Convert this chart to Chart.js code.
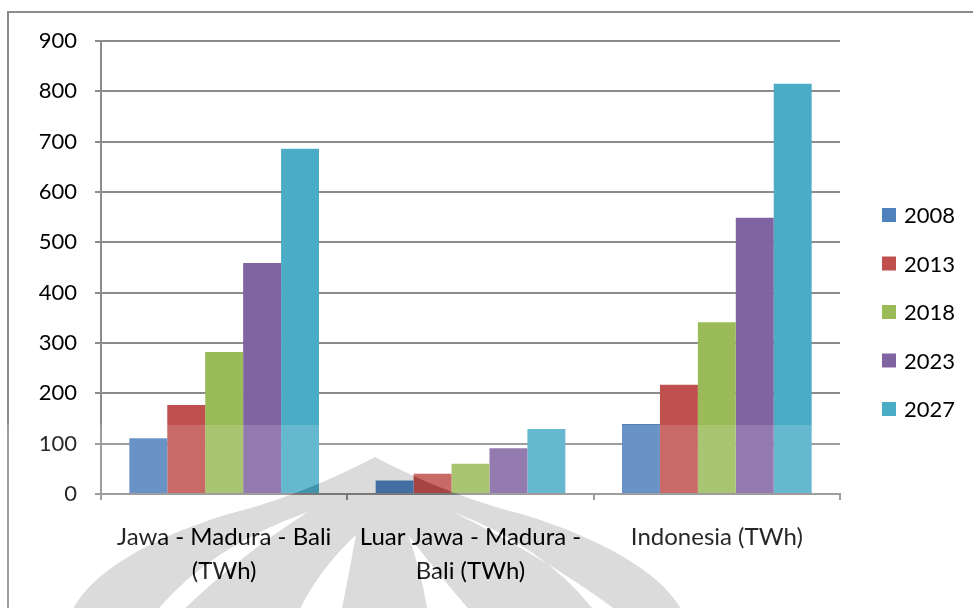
<!DOCTYPE html>
<html>
<head>
<meta charset="utf-8">
<script src="https://cdn.jsdelivr.net/npm/chart.js@4/dist/chart.umd.min.js"></script>
<style>
  html, body { margin: 0; padding: 0; background: #ffffff; overflow: hidden; }
  #wrap { width: 973px; height: 608px; position: relative; }
</style>
</head>
<body>
<div id="wrap"><canvas id="chart" width="973" height="608"></canvas></div>
<script>
// Electricity demand by region (TWh)
const categories = [
  ["Jawa - Madura - Bali", "(TWh)"],
  ["Luar Jawa - Madura -", "Bali (TWh)"],
  "Indonesia (TWh)"
];
const seriesNames = ["2008", "2013", "2018", "2023", "2027"];
const demand2008 = [111, 27, 139];
const demand2013 = [177, 40, 217];
const demand2018 = [282, 60, 341];
const demand2023 = [459, 91, 549];
const demand2027 = [686, 129, 815];
const yTicks = [0, 100, 200, 300, 400, 500, 600, 700, 800, 900];

const seriesValues = [demand2008, demand2013, demand2018, demand2023, demand2027];
const seriesColors = ["#4F81BD", "#C0504D", "#9BBB59", "#8064A2", "#4BACC6"];

const FONT = "Lato";
const AXIS_GRAY = "#8c8c8c";

// Outer frame of the chart object
const framePlugin = {
  id: "frame",
  beforeDraw(chart) {
    const ctx = chart.ctx;
    ctx.save();
    ctx.fillStyle = "#ffffff";
    ctx.fillRect(0, 0, chart.width, chart.height);
    ctx.strokeStyle = AXIS_GRAY;
    ctx.lineWidth = 2;
    ctx.strokeRect(8, 12, chart.width + 40, chart.height + 40);
    ctx.restore();
  }
};

// Legend on the right: coloured square + series name
const sideLegend = {
  id: "sideLegend",
  afterDraw(chart) {
    const ctx = chart.ctx;
    const x = 882, top = 215, step = 48.5, box = 14;
    ctx.save();
    ctx.font = "22px " + FONT;
    ctx.textBaseline = "middle";
    ctx.textAlign = "left";
    chart.data.datasets.forEach((ds, i) => {
      const cy = top + i * step;
      ctx.fillStyle = ds.backgroundColor;
      ctx.fillRect(x, cy - box / 2, box, box);
      ctx.fillStyle = "#000000";
      ctx.fillText(ds.label, x + box + 8, cy + 1);
    });
    ctx.restore();
  }
};

// Faint emblem band across the lower part of the page
const emblem = {
  id: "emblem",
  afterDraw(chart) {
    const ctx = chart.ctx;
    const W = chart.width, H = chart.height;
    const bandTop = 425;
    const cx = 378;

    function emblemPath() {
      const p = new Path2D();
      // outer pointed dome
      p.moveTo(cx - 3, 457);
      p.bezierCurveTo(cx + 37, 478, cx + 87, 500, cx + 147, 515);
      p.bezierCurveTo(cx + 227, 540, cx + 287, 575, cx + 305, H + 5);
      p.lineTo(cx - 307, H + 5);
      p.bezierCurveTo(cx - 290, 575, cx - 233, 540, cx - 153, 515);
      p.bezierCurveTo(cx - 93, 500, cx - 43, 478, cx - 3, 457);
      p.closePath();
      return p;
    }
    function gapsPath() {
      const p = new Path2D();
      // curved light gaps between the petals: [left foot, right foot, tip x, tip y]
      const gaps = [
        [-223, -198, -70, 512],
        [-80, -37, -22, 535],
        [50, 94, 30, 535],
        [218, 242, 75, 512]
      ];
      gaps.forEach(([x0, x1, tx, ty]) => {
        p.moveTo(cx + x0, H + 5);
        p.quadraticCurveTo(cx + x0 + (tx - x0) * 0.35, ty + 35, cx + tx, ty);
        p.quadraticCurveTo(cx + x1 + (tx - x1) * 0.45, ty + 45, cx + x1, H + 5);
        p.closePath();
      });
      return p;
    }

    ctx.save();
    // whitening band except inside the emblem
    const outside = new Path2D();
    outside.rect(0, bandTop, W, H - bandTop);
    outside.addPath(emblemPath());
    ctx.save();
    ctx.clip(outside, "evenodd");
    ctx.fillStyle = "rgba(255,255,255,0.15)";
    ctx.fillRect(0, bandTop, W, H - bandTop);
    ctx.restore();
    ctx.save();
    ctx.clip(emblemPath());
    ctx.fillStyle = "rgba(255,255,255,0.15)";
    ctx.fill(gapsPath());
    ctx.restore();
    // emblem shade
    ctx.save();
    const notGaps = new Path2D();
    notGaps.rect(0, 0, W, H);
    notGaps.addPath(gapsPath());
    ctx.clip(notGaps, "evenodd");
    ctx.fillStyle = "rgba(0,0,0,0.14)";
    ctx.fill(emblemPath());
    ctx.restore();
    ctx.restore();
  }
};

const datasets = seriesNames.map((name, i) => ({
  label: name,
  data: seriesValues[i],
  backgroundColor: seriesColors[i],
  borderWidth: 0,
  categoryPercentage: 0.77,
  barPercentage: 1.0
}));

new Chart(document.getElementById("chart"), {
  type: "bar",
  data: { labels: categories, datasets },
  options: {
    responsive: false,
    devicePixelRatio: 1,
    animation: false,
    events: [],
    layout: { padding: { left: 0, top: 41, right: 133, bottom: 0 } },
    plugins: {
      legend: { display: false },
      tooltip: { enabled: false }
    },
    scales: {
      x: {
        grid: {
          offset: true,
          drawOnChartArea: false,
          drawTicks: true,
          tickLength: 6,
          color: AXIS_GRAY,
          lineWidth: 2
        },
        border: { display: true, color: AXIS_GRAY, width: 2 },
        ticks: {
          color: "#000000",
          padding: 20,
          maxRotation: 0,
          autoSkip: false,
          font: { family: FONT, size: 24, lineHeight: 34 / 24 }
        },
        afterFit(scale) { scale.height = 114; }
      },
      y: {
        min: 0,
        max: 900,
        afterBuildTicks(scale) { scale.ticks = yTicks.map(v => ({ value: v })); },
        grid: {
          color: AXIS_GRAY,
          lineWidth: 2,
          drawTicks: true,
          tickLength: 6
        },
        border: { display: true, color: AXIS_GRAY, width: 2 },
        ticks: {
          color: "#000000",
          padding: 18,
          font: { family: FONT, size: 22 }
        },
        afterFit(scale) { scale.width = 101; }
      }
    }
  },
  plugins: [framePlugin, sideLegend, emblem]
});
</script>
</body>
</html>
